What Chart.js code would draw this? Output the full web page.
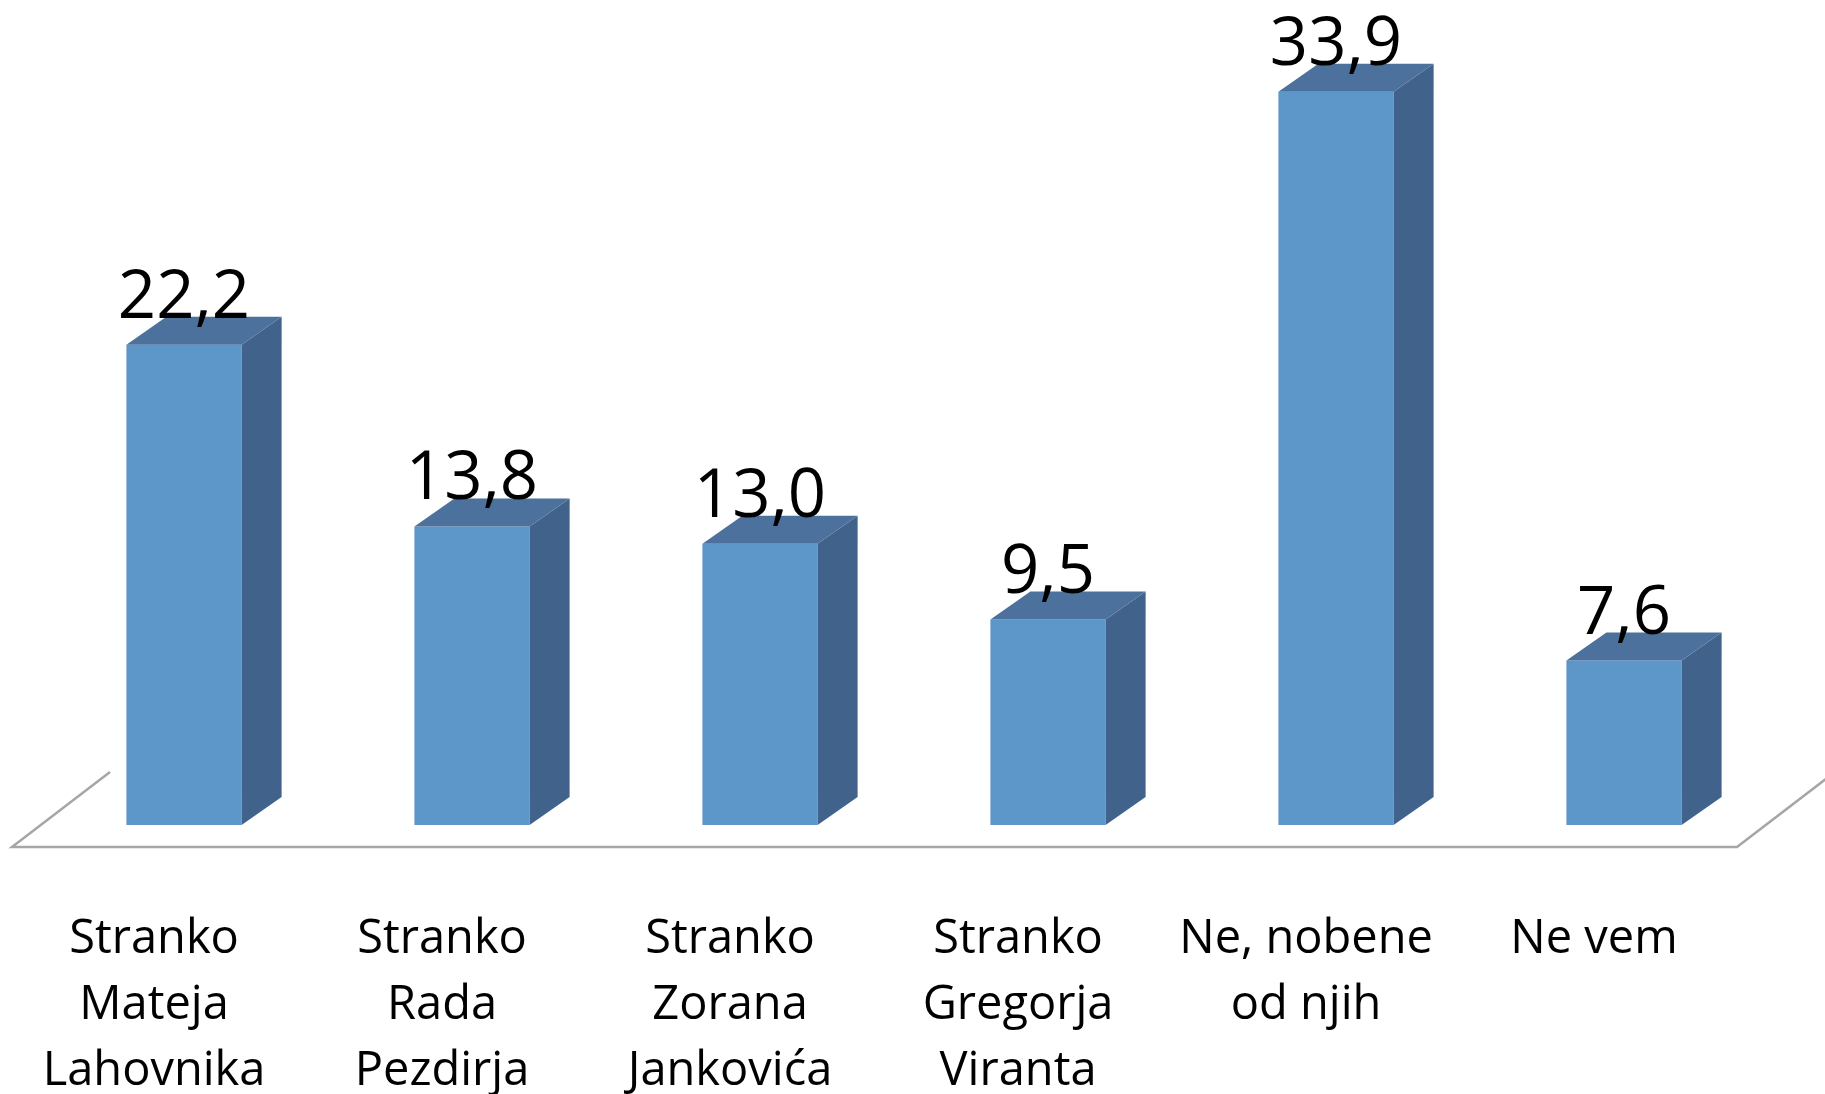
<!DOCTYPE html>
<html>
<head>
<meta charset="utf-8">
<script src="https://cdn.jsdelivr.net/npm/chart.js@4.4.0/dist/chart.umd.min.js"></script>
<style>
html, body { margin: 0; padding: 0; background: #fff; }
#okvir { width: 1825px; height: 1094px; position: relative; }
</style>
</head>
<body>
<div id="okvir"><canvas id="grafikon"></canvas></div>
<script>
// podatki
const kategorije = [
    ['Stranko', 'Mateja', 'Lahovnika'],
    ['Stranko', 'Rada', 'Pezdirja'],
    ['Stranko', 'Zorana', 'Jankovića'],
    ['Stranko', 'Gregorja', 'Viranta'],
    ['Ne, nobene', 'od njih'],
    ['Ne vem']
];
const odstotki = [22.2, 13.8, 13.0, 9.5, 33.9, 7.6];

const barvaSprednja = '#5D96C9';
const barvaStranska = '#41638B';
const barvaZgornja = '#4B719C';
const globina = { dx: 40, dy: 28 };
// napisi so v izvirniku zamaknjeni malo levo od stolpcev
const zamikNapisov = 0.104;

// tla + 3D stranice + vrednosti
const kvader = {
    id: 'kvader',
    beforeDatasetsDraw(chart) {
        const ctx = chart.ctx;
        const a = chart.chartArea;
        const yf = a.bottom + 22;
        const xl = a.left - 28, xr = a.right - 31;
        ctx.save();
        ctx.strokeStyle = '#A6A6A6';
        ctx.lineWidth = 2.5;
        ctx.beginPath();
        ctx.moveTo(xl + 98, yf - 75);
        ctx.lineTo(xl, yf);
        ctx.lineTo(xr, yf);
        ctx.lineTo(xr + 98, yf - 75);
        ctx.stroke();
        ctx.restore();
    },
    afterDatasetsDraw(chart) {
        const ctx = chart.ctx;
        const meta = chart.getDatasetMeta(0);
        ctx.save();
        meta.data.forEach((bar, i) => {
            const p = bar.getProps(['x', 'y', 'base', 'width'], true);
            const l = p.x - p.width / 2, r = p.x + p.width / 2;
            // stranska ploskev
            ctx.fillStyle = barvaStranska;
            ctx.beginPath();
            ctx.moveTo(r, p.y);
            ctx.lineTo(r + globina.dx, p.y - globina.dy);
            ctx.lineTo(r + globina.dx, p.base - globina.dy);
            ctx.lineTo(r, p.base);
            ctx.closePath();
            ctx.fill();
            // zgornja ploskev
            ctx.fillStyle = barvaZgornja;
            ctx.beginPath();
            ctx.moveTo(l, p.y);
            ctx.lineTo(l + globina.dx, p.y - globina.dy);
            ctx.lineTo(r + globina.dx, p.y - globina.dy);
            ctx.lineTo(r, p.y);
            ctx.closePath();
            ctx.fill();
            // vrednost
            ctx.fillStyle = '#000';
            ctx.font = '67px "Open Sans"';
            ctx.textAlign = 'center';
            ctx.textBaseline = 'alphabetic';
            ctx.fillText(odstotki[i].toFixed(1).replace('.', ','), p.x, p.y - 27);
        });
        ctx.restore();
    }
};

const ctx = document.getElementById('grafikon');
const grafikon = new Chart(ctx, {
    type: 'bar',
    data: {
        labels: kategorije,
        datasets: [{
            label: 'odstotek',
            data: odstotki,
            backgroundColor: barvaSprednja,
            borderWidth: 0,
            categoryPercentage: 1,
            barPercentage: 0.4
        }]
    },
    options: {
        responsive: true,
        maintainAspectRatio: false,
        animation: false,
        layout: { padding: { left: 40, right: 57, top: 0, bottom: 0 } },
        plugins: {
            legend: { display: false },
            tooltip: { enabled: false }
        },
        scales: {
            x: { display: false },
            y: { display: false, min: 0, max: 38.14 },
            napisi: {
                type: 'linear',
                position: 'bottom',
                offset: false,
                bounds: 'data',
                min: -0.5 + zamikNapisov,
                max: kategorije.length - 0.5 + zamikNapisov,
                grid: { display: false, drawTicks: false, offset: false },
                border: { display: false },
                afterBuildTicks: (axis) => {
                    axis.ticks = kategorije.map((k, i) => ({ value: i }));
                    axis.min = -0.5 + zamikNapisov;
                    axis.max = kategorije.length - 0.5 + zamikNapisov;
                },
                afterFit: (axis) => {
                    axis.height = 269;
                    axis.paddingLeft = 0;
                    axis.paddingRight = 0;
                },
                ticks: {
                    autoSkip: false,
                    maxRotation: 0,
                    padding: 82,
                    color: '#000',
                    font: { family: 'Open Sans', size: 47, lineHeight: 66 / 47 },
                    callback: (v) => kategorije[v]
                }
            }
        }
    },
    plugins: [kvader]
});
</script>
</body>
</html>
